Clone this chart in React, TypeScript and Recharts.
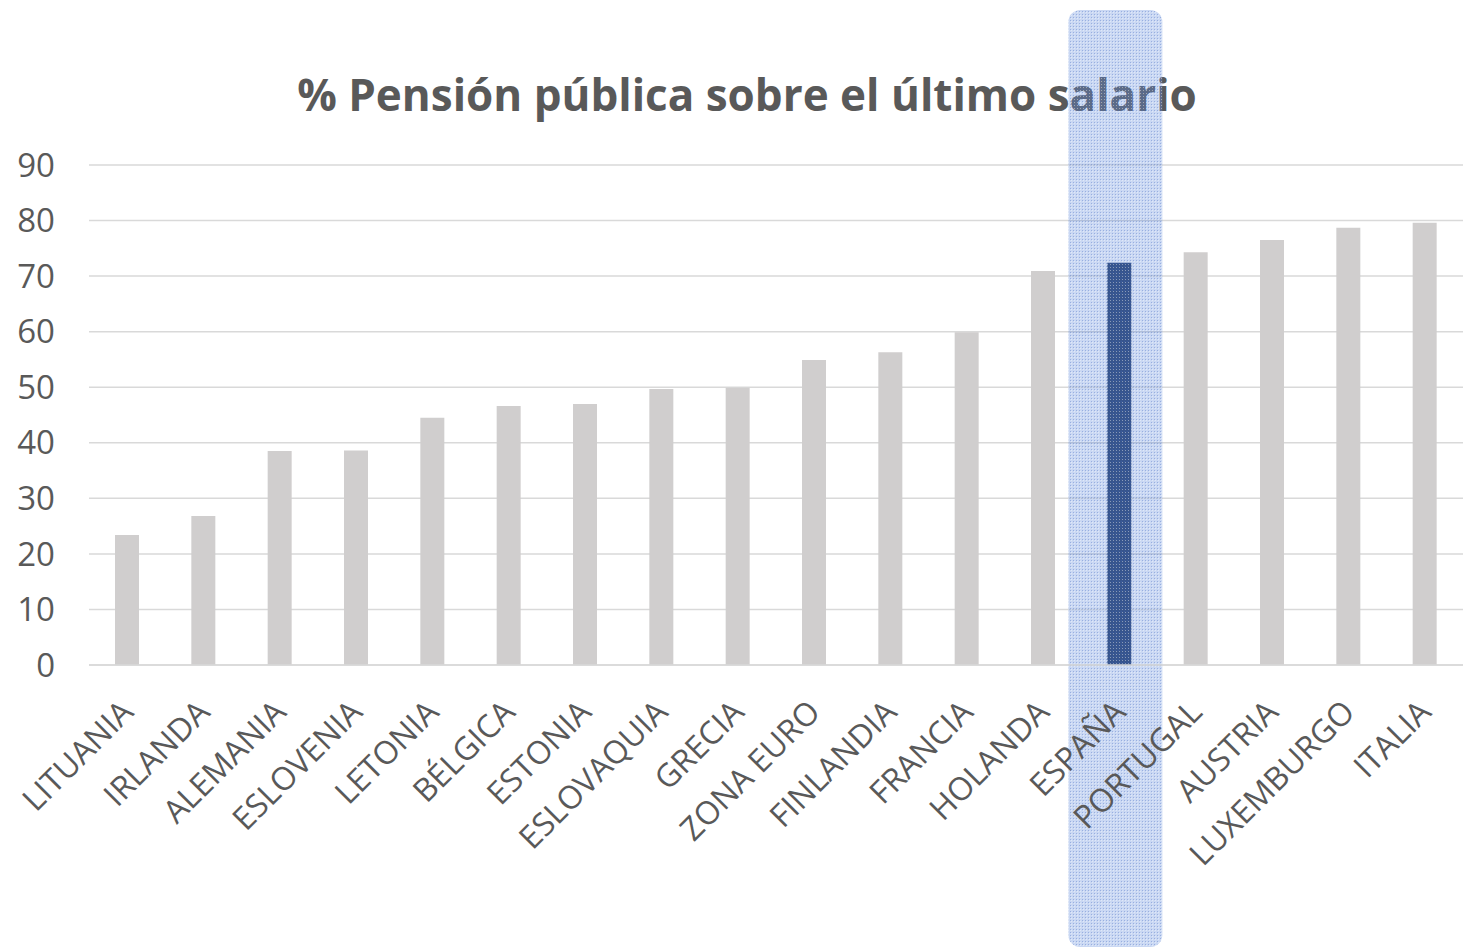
import React from "react";
import { Bar, BarChart, CartesianGrid, Cell, Rectangle, XAxis, YAxis } from "recharts";

const categories = [
  "LITUANIA",
  "IRLANDA",
  "ALEMANIA",
  "ESLOVENIA",
  "LETONIA",
  "BÉLGICA",
  "ESTONIA",
  "ESLOVAQUIA",
  "GRECIA",
  "ZONA EURO",
  "FINLANDIA",
  "FRANCIA",
  "HOLANDA",
  "ESPAÑA",
  "PORTUGAL",
  "AUSTRIA",
  "LUXEMBURGO",
  "ITALIA",
];

const pension = [
  23.4, 26.8, 38.5, 38.6, 44.5, 46.6, 47.0, 49.7, 49.9, 54.9, 56.3, 59.9, 70.9, 72.4, 74.3,
  76.5, 78.7, 79.6,
];

const yTicks = [0, 10, 20, 30, 40, 50, 60, 70, 80, 90];
const highlighted = "ESPAÑA";

const data = categories.map((name, i) => ({ name, value: pension[i] }));

const TEXT = "#595959";
const FONT = "'Open Sans', sans-serif";

function XTick({ x, y, payload }: any) {
  const ax = x + 8;
  const ay = y + 49;
  return (
    <text
      x={ax}
      y={ay}
      transform={`rotate(-45, ${ax}, ${ay})`}
      textAnchor="end"
      fill={TEXT}
      fontSize={32}
      fontFamily={FONT}
    >
      {payload.value}
    </text>
  );
}

// bar shape; the highlighted country also gets the dotted blue band on top
function BarShape(props: any) {
  const { x, width, payload } = props;
  const isHl = payload.name === highlighted;
  return (
    <g>
      <Rectangle {...props} />
      {isHl && (
        <rect
          x={x + width / 2 - 51}
          y={10}
          width={94}
          height={937}
          rx={12}
          ry={12}
          fill="url(#hlPattern)"
        />
      )}
    </g>
  );
}

export default function App() {
  return (
    <div
      style={{
        position: "absolute",
        left: 0,
        top: 0,
        width: 1463,
        height: 949,
        background: "#fff",
        fontFamily: FONT,
      }}
    >
      <div
        style={{
          position: "absolute",
          left: 0,
          top: 72,
          width: 1494,
          textAlign: "center",
          fontSize: 44,
          lineHeight: "44px",
          fontWeight: 700,
          color: TEXT,
          whiteSpace: "nowrap",
        }}
      >
        % Pensión pública sobre el último salario
      </div>
      <div style={{ position: "absolute", left: 0, top: 0 }}>
        <BarChart
          width={1463}
          height={949}
          data={data}
          margin={{ top: 165, right: 0, left: 0, bottom: 0 }}
          barCategoryGap={0}
        >
          <defs>
            <pattern id="hlPattern" width={3} height={3} patternUnits="userSpaceOnUse">
              <rect width={3} height={3} fill="rgba(100,140,220,0.34)" />
              <rect width={1} height={1} fill="rgba(255,255,255,0.4)" />
              <rect x={2} y={2} width={1} height={1} fill="rgba(60,100,190,0.35)" />
            </pattern>
          </defs>
          <CartesianGrid vertical={false} stroke="#d9d9d9" strokeWidth={1.5} />
          <XAxis
            dataKey="name"
            interval={0}
            height={284}
            tickLine={false}
            tickSize={0}
            tickMargin={0}
            axisLine={{ stroke: "#d9d9d9", strokeWidth: 1.5 }}
            tick={<XTick />}
          />
          <YAxis
            width={89}
            domain={[0, 90]}
            ticks={yTicks}
            axisLine={false}
            tickLine={false}
            tickSize={0}
            tickMargin={34}
            tick={{ fill: TEXT, fontSize: 33, fontFamily: FONT }}
          />
          <Bar dataKey="value" barSize={24} shape={<BarShape />} isAnimationActive={false}>
            {data.map((d) => (
              <Cell key={d.name} fill={d.name === highlighted ? "#203864" : "#d0cece"} />
            ))}
          </Bar>
        </BarChart>
      </div>
    </div>
  );
}
